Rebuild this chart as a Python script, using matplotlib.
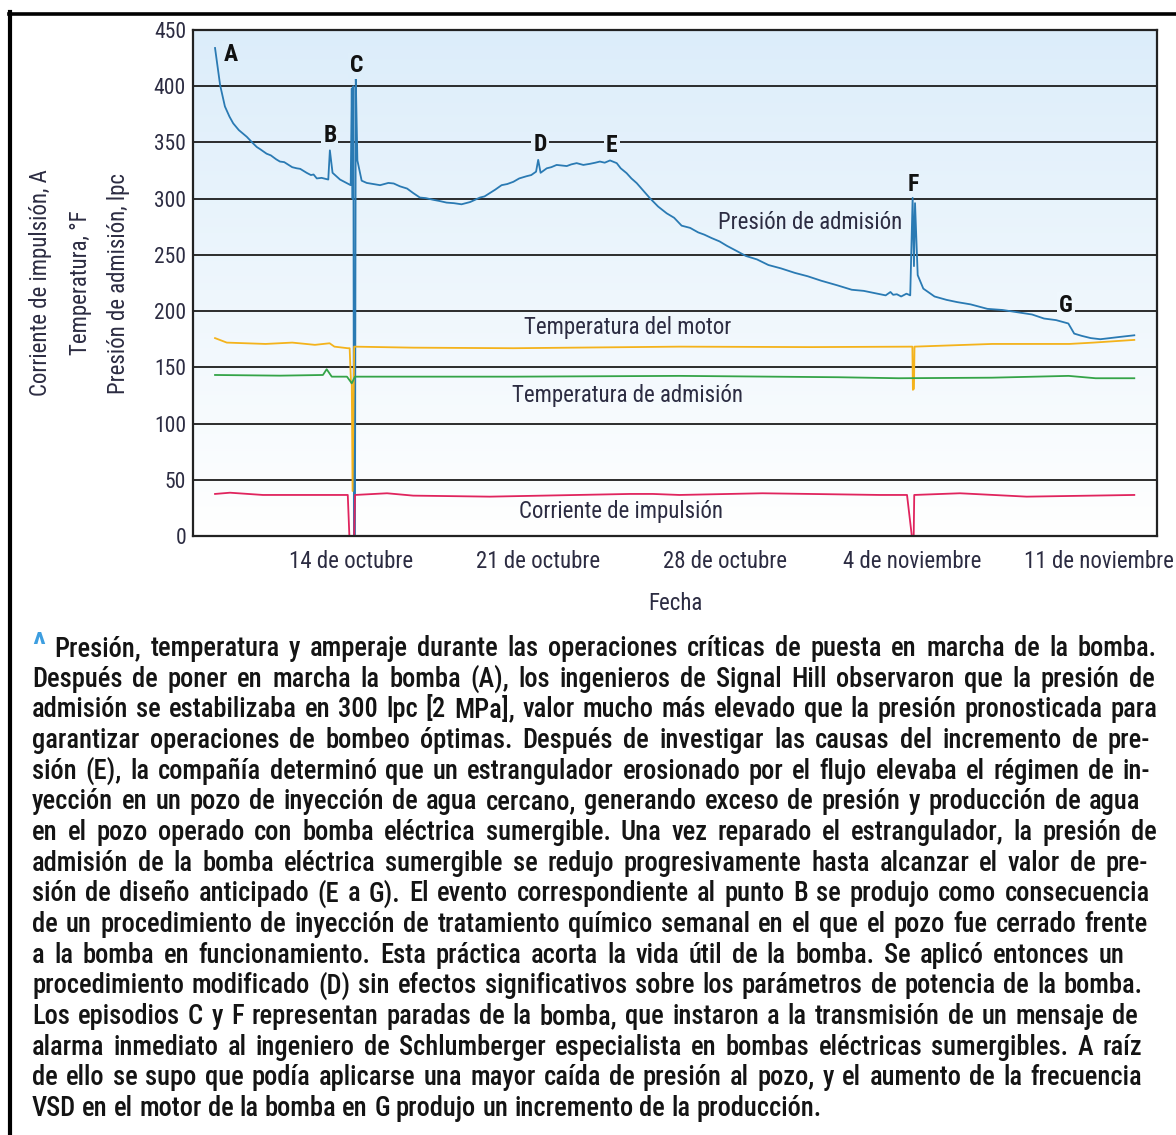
import numpy as np
import matplotlib.pyplot as plt
from matplotlib.colors import LinearSegmentedColormap, to_rgb
from matplotlib.lines import Line2D

W, H = 1176, 1135

# x values are days counted in October (4 Nov = 35, 11 Nov = 42)
pres_day = [8.91, 9.10, 9.28, 9.45, 9.59, 9.80, 10.10, 10.30, 10.47, 10.60, 10.84, 11.00, 11.20,
            11.34, 11.50, 11.60, 11.80, 11.97, 12.10, 12.34, 12.50, 12.60, 12.72, 12.90, 13.15,
            13.21, 13.31, 13.59, 13.99, 14.03, 14.06, 14.09, 14.11, 14.15, 14.18, 14.24,
            14.40, 14.59, 14.85, 15.09, 15.40, 15.60, 15.83, 16.10, 16.33, 16.58, 16.80, 17.08,
            17.30, 17.58, 17.85, 18.14, 18.46, 18.83, 19.00, 19.20, 19.40, 19.64, 19.85, 20.08,
            20.30, 20.58, 20.75, 20.93, 21.01, 21.10, 21.33, 21.50, 21.70, 21.90, 22.08, 22.25,
            22.45, 22.70, 22.95, 23.15, 23.32, 23.50, 23.70, 23.95, 24.10, 24.32, 24.50, 24.70,
            24.95, 25.19, 25.50, 25.82, 26.10, 26.38, 26.70, 27.00, 27.23, 27.50, 27.80, 28.08,
            28.40, 28.79, 29.20, 29.63, 30.10, 30.62, 31.10, 31.61, 32.20, 32.75, 33.20, 33.60,
            34.02, 34.20, 34.30, 34.44, 34.60, 34.80, 34.94, 35.03, 35.08, 35.12, 35.22, 35.43,
            35.85, 36.30, 36.70, 37.20, 37.83, 38.40, 38.96, 39.50, 39.95, 40.40, 40.86, 41.08,
            41.36, 41.70, 42.06, 42.40, 42.77, 43.33]
pres_val = [434, 401, 382, 373, 367, 361, 355, 350, 346, 344, 340, 338.5, 335,
            333, 332.5, 331, 328, 327, 326.5, 323, 321, 321.5, 318, 318.5, 317,
            343, 323, 317, 312, 398, 300, 400, 0, 0, 407, 334,
            316, 314, 313, 312, 314, 313.5, 311, 309, 305, 301, 300.5, 299,
            298, 296.5, 296, 295, 297, 301, 302, 305, 308, 312, 313, 315,
            318, 320, 321, 324, 334.5, 323, 327, 328, 330, 329.5, 329, 330.5,
            331.6, 330, 331, 332, 333, 332, 334, 331.6, 327, 322.7, 318, 313.8,
            307, 300.5, 293, 287, 283, 276, 274, 270, 268, 265, 262, 258,
            254, 249, 246, 241, 238, 234, 231, 227, 223, 219, 218, 216,
            214, 217, 214.5, 215, 213, 215.5, 214, 300.7, 240, 296, 232, 220,
            213, 210, 208, 206, 202, 201, 199, 197, 193.4, 192, 189, 180,
            178, 176, 175, 176, 177, 178.5]

motor_day = [8.91, 9.35, 10.80, 11.80, 12.65, 13.20, 13.38, 13.88, 13.95, 14.00, 14.03, 14.06,
             14.12, 16.33, 20.08, 26.30, 31.20, 35.02, 35.04, 35.08, 35.10, 38.00, 40.90,
             41.80, 43.33]
motor_val = [176, 172, 170.8, 172, 170, 171.4, 168.4, 167, 167, 137, 135, 40,
             168.4, 167.5, 167, 168.4, 168, 168.4, 130, 131, 168.4, 170.8, 170.8,
             172, 174.4]

intake_day = [8.91, 11.34, 12.95, 13.09, 13.28, 13.85, 14.03, 14.15, 16.33, 20.08, 26.30,
              32.24, 34.50, 38.00, 40.87, 41.88, 43.33]
intake_val = [143.2, 142.6, 143.2, 148.3, 141.7, 141.7, 135.8, 141.7, 141.7, 141.7, 142.4,
              141.2, 140.3, 140.8, 142.4, 140.3, 140.3]

current_day = [8.91, 9.47, 10.70, 13.88, 13.94, 14.12, 14.15, 15.35, 16.33, 19.20, 24.45,
               25.30, 26.30, 29.40, 33.80, 34.82, 35.00, 35.07, 35.09, 36.80, 39.30, 43.33]
current_val = [37.4, 38.5, 36.5, 36.5, 0, 0, 36.5, 38, 35.9, 35, 37.4,
               37.4, 36.5, 38, 36.5, 36.5, 0, 0, 36.5, 38, 35, 36.5]

tick_days = [14, 21, 28, 35, 42]
tick_labels = ['14 de octubre', '21 de octubre', '28 de octubre', '4 de noviembre', '11 de noviembre']
y_ticks = [0, 50, 100, 150, 200, 250, 300, 350, 400, 450]

event_names = ['A', 'B', 'C', 'D', 'E', 'F', 'G']
event_day = [9.51, 13.21, 14.22, 21.08, 23.77, 35.04, 40.77]
event_val = [428, 356, 418, 348, 347, 313, 205]

series_names = ['Presión de admisión', 'Temperatura del motor', 'Temperatura de admisión',
                'Corriente de impulsión']
series_day = [31.18, 24.37, 24.37, 24.11]
series_val = [279, 185, 124.6, 22.2]

y_labels = ['Corriente de impulsión, A', 'Temperatura, °F', 'Presión de admisión, lpc']

caption = [
    '^ Presión, temperatura y amperaje durante las operaciones críticas de puesta en marcha de la bomba.',
    'Después de poner en marcha la bomba (A), los ingenieros de Signal Hill observaron que la presión de',
    'admisión se estabilizaba en 300 lpc [2 MPa], valor mucho más elevado que la presión pronosticada para',
    'garantizar operaciones de bombeo óptimas. Después de investigar las causas del incremento de pre-',
    'sión (E), la compañía determinó que un estrangulador erosionado por el flujo elevaba el régimen de in-',
    'yección en un pozo de inyección de agua cercano, generando exceso de presión y producción de agua',
    'en el pozo operado con bomba eléctrica sumergible. Una vez reparado el estrangulador, la presión de',
    'admisión de la bomba eléctrica sumergible se redujo progresivamente hasta alcanzar el valor de pre-',
    'sión de diseño anticipado (E a G). El evento correspondiente al punto B se produjo como consecuencia',
    'de un procedimiento de inyección de tratamiento químico semanal en el que el pozo fue cerrado frente',
    'a la bomba en funcionamiento. Esta práctica acorta la vida útil de la bomba. Se aplicó entonces un',
    'procedimiento modificado (D) sin efectos significativos sobre los parámetros de potencia de la bomba.',
    'Los episodios C y F representan paradas de la bomba, que instaron a la transmisión de un mensaje de',
    'alarma inmediato al ingeniero de Schlumberger especialista en bombas eléctricas sumergibles. A raíz',
    'de ello se supo que podía aplicarse una mayor caída de presión al pozo, y el aumento de la frecuencia',
    'VSD en el motor de la bomba en G produjo un incremento de la producción.',
]
# right end (px) of every caption line, last one is left ragged
caption_ends = [1157, 1155, 1157, 1150, 1150, 1140, 1157, 1148, 1150, 1148, 1125, 1143, 1138, 1142, 1142, None]

NARROW = ['Roboto Condensed', 'Archivo Narrow', 'DejaVu Sans']
LABEL_COLOR = '#2c2c42'

TOP_BG = np.array(to_rgb('#dcedfa'))
BOT_BG = np.array([1.0, 1.0, 1.0])


def bg_at(v):
    t = v / 450
    return tuple(BOT_BG * (1 - t) + TOP_BG * t)


def add_caption(fig, lines, ends, x0, base0, step, size):
    rend = fig.canvas.get_renderer()
    rows = []
    for i, line in enumerate(lines):
        y = 1 - (base0 + i * step) / H
        words = []
        for j, w in enumerate(line.split(' ')):
            t = fig.text(0, y, w, fontsize=size, color='#141414', family=NARROW,
                         fontweight='medium', ha='left', va='baseline')
            if i == 0 and j == 0:
                # the blue caret in front of the caption
                t.set_color('#3d9ee0')
                t.set_fontweight('bold')
            words.append(t)
        rows.append(words)

    def measure(sz):
        a = fig.text(0, 0, 'n n', fontsize=sz, family=NARROW, fontweight='medium')
        b = fig.text(0, 0, 'nn', fontsize=sz, family=NARROW, fontweight='medium')
        sp = a.get_window_extent(rend).width - b.get_window_extent(rend).width
        a.remove()
        b.remove()
        widths = [[t.get_window_extent(rend).width for t in row] for row in rows]
        return sp, widths

    # fit the font size so the lines need only a little extra spacing
    sp, widths = measure(size)
    ratios = []
    for row_w, end in zip(widths, ends):
        if end is not None:
            ratios.append((end - x0) / (sum(row_w) + sp * (len(row_w) - 1)))
    size = size * min(max(min(ratios) * 0.995, 0.85), 1.06)
    for row in rows:
        for t in row:
            t.set_fontsize(size)
    rows[0][0].set_fontsize(size * 1.25)
    sp, widths = measure(size)

    for row, row_w, end in zip(rows, widths, ends):
        if end is None or len(row) < 2:
            gap = sp
        else:
            gap = (end - x0 - sum(row_w)) / (len(row) - 1)
        x = x0
        for t, w in zip(row, row_w):
            t.set_x(x / W)
            x += w + gap


fig = plt.figure(figsize=(W / 100, H / 100), dpi=100)
ax = fig.add_axes([193 / W, 1 - 536 / H, (1157 - 193) / W, (536 - 30) / H])

x_lim = (8.085, 44.18)
cmap = LinearSegmentedColormap.from_list('bg', [BOT_BG, TOP_BG])
ax.imshow(np.linspace(0, 1, 256).reshape(-1, 1), extent=[x_lim[0], x_lim[1], 0, 450],
          origin='lower', aspect='auto', cmap=cmap, zorder=0)

for v in y_ticks[1:-1]:
    ax.axhline(v, color='#1c1c1c', lw=1.3, zorder=1)

ax.plot(pres_day, pres_val, color='#2a7ab3', lw=1.3, zorder=3)
ax.plot(motor_day, motor_val, color='#f4b31c', lw=1.3, zorder=4)
ax.plot(intake_day, intake_val, color='#34a448', lw=1.3, zorder=4)
ax.plot(current_day, current_val, color='#e0245e', lw=1.3, zorder=4)

for name, d, v in zip(event_names, event_day, event_val):
    ax.text(d, v, name, fontsize=17, fontweight='bold', family=NARROW, color='#111111',
            ha='center', va='center', zorder=6,
            bbox=dict(boxstyle='square,pad=0.08', fc=bg_at(v), ec='none'))

for name, d, v in zip(series_names, series_day, series_val):
    ax.text(d, v, name, fontsize=16.5, family=NARROW, color=LABEL_COLOR,
            ha='center', va='center', zorder=6)

ax.set_xlim(*x_lim)
ax.set_ylim(0, 450)
ax.set_yticks(y_ticks)
ax.set_xticks(tick_days, tick_labels)
ax.tick_params(length=0, labelsize=15.5, labelcolor=LABEL_COLOR, pad=5)
ax.tick_params(axis='x', pad=10, labelsize=16.5)
for lbl in ax.get_xticklabels() + ax.get_yticklabels():
    lbl.set_family(NARROW)
for s in ax.spines.values():
    s.set_linewidth(1.6)
    s.set_color('#222222')
    s.set_zorder(7)
ax.set_xlabel('Fecha', fontsize=16.5, family=NARROW, color=LABEL_COLOR, labelpad=14)

for text, xp in zip(y_labels, [40, 80, 118]):
    fig.text(xp / W, 1 - 283 / H, text, rotation=90, fontsize=16.5, family=NARROW,
             color=LABEL_COLOR, ha='center', va='center')

# frame lines on the left and top of the page
fig.add_artist(Line2D([10 / W, 10 / W], [0, 1 - 12 / H], transform=fig.transFigure,
                      color='black', lw=3))
fig.add_artist(Line2D([8.5 / W, 1], [1 - 13.5 / H, 1 - 13.5 / H], transform=fig.transFigure,
                      color='black', lw=2.6))

add_caption(fig, caption, caption_ends, 32, 656, 30.67, 18)

fig.savefig('out.png', dpi=100)
